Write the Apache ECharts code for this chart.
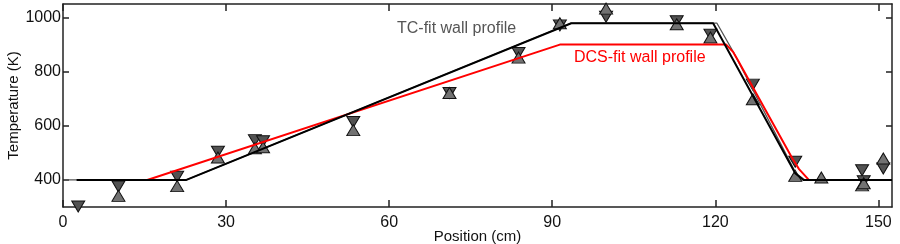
<!DOCTYPE html>
<html>
<head>
<meta charset="utf-8">
<script src="https://cdn.jsdelivr.net/npm/echarts@6/dist/echarts.min.js"></script>
<style>
html,body{margin:0;padding:0;background:#fff;}
#chart{width:900px;height:244px;}
</style>
</head>
<body>
<div id="chart"></div>
<script>
// Measured points (triangle down)
const posDown  = [2.8, 10.2, 21.0, 28.5, 35.3, 36.8, 53.4, 71.1, 83.8, 91.4, 99.9, 112.9, 119.1, 126.9, 134.7, 147.0, 147.3, 150.9];
const tempDown = [302, 376, 412, 504, 547, 543, 614, 721, 869, 971, 1003, 986, 937, 752, 467, 436, 395, 442];
// Measured points (triangle up)
const posUp  = [10.2, 21.0, 28.5, 35.3, 36.8, 53.4, 71.1, 83.8, 91.4, 99.9, 112.9, 119.1, 126.9, 134.7, 139.5, 147.0, 147.3, 150.9];
const tempUp = [341, 377, 483, 517, 521, 584, 721, 852, 979, 1033, 975, 926, 698, 415, 409, 380, 388, 479];
// TC-fit wall profile (black)
const tcPos  = [2.5, 22.7, 93.5, 119.6, 134.7, 136.2, 152.5];
const tcTemp = [400, 400, 979, 979, 425, 400, 400];
// secondary grey profile
const grPos  = [0.3, 22.7, 93.5, 120.3, 123.4, 134.8, 136.5, 152.5];
const grTemp = [400, 400, 979, 979, 870, 425, 400, 400];
// DCS-fit wall profile (red)
const dcsPos  = [15.5, 91.4, 122.0, 123.3, 124.1, 134.2, 135.4, 137.2];
const dcsTemp = [400, 900, 900, 872, 844, 478, 440, 400];
// Axis ticks
const xTicks = [0, 30, 60, 90, 120, 150];
const yTicks = [400, 600, 800, 1000];
const labelTC = 'TC-fit wall profile';
const labelDCS = 'DCS-fit wall profile';

const zip = (a, b) => a.map((v, i) => [v, b[i]]);
const FONT = 'Liberation Sans, Arial, Helvetica, sans-serif';
const axisLineStyle = { color: '#222', width: 1.5 };
const plain = v => String(v);

const chart = echarts.init(document.getElementById('chart'), null, { renderer: 'canvas' });
chart.setOption({
  animation: false,
  backgroundColor: '#fff',
  grid: { left: 63, right: 8, top: 4, bottom: 37, containLabel: false, outerBoundsMode: 'none' },
  xAxis: [{
    type: 'value', min: 0, max: 152.5, interval: 30, position: 'bottom',
    axisLine: { show: true, onZero: false, lineStyle: axisLineStyle },
    axisTick: { show: true, inside: true, length: 7, lineStyle: axisLineStyle, customValues: xTicks },
    axisLabel: { color: '#111', fontSize: 16, fontFamily: FONT, margin: 8, customValues: xTicks, formatter: plain },
    splitLine: { show: false },
    name: 'Position (cm)', nameLocation: 'middle', nameGap: 22, nameMoveOverlap: false,
    nameTextStyle: { color: '#111', fontSize: 15, fontFamily: FONT }
  }, {
    type: 'value', min: 0, max: 152.5, interval: 30, position: 'top',
    axisLine: { show: true, onZero: false, lineStyle: axisLineStyle },
    axisTick: { show: true, inside: true, length: 7, lineStyle: axisLineStyle, customValues: xTicks },
    axisLabel: { show: false },
    splitLine: { show: false }
  }],
  yAxis: [{
    type: 'value', min: 300, max: 1050, position: 'left',
    axisLine: { show: true, onZero: false, lineStyle: axisLineStyle },
    axisTick: { show: true, inside: true, length: 6, lineStyle: axisLineStyle, customValues: yTicks },
    axisLabel: { color: '#111', fontSize: 16, fontFamily: FONT, margin: 2, customValues: yTicks, formatter: plain },
    splitLine: { show: false },
    name: 'Temperature (K)', nameLocation: 'middle', nameGap: 42, nameMoveOverlap: false,
    nameTextStyle: { color: '#111', fontSize: 15, fontFamily: FONT }
  }, {
    type: 'value', min: 300, max: 1050, position: 'right',
    axisLine: { show: true, onZero: false, lineStyle: axisLineStyle },
    axisTick: { show: true, inside: true, length: 6, lineStyle: axisLineStyle, customValues: yTicks },
    axisLabel: { show: false },
    splitLine: { show: false }
  }],
  series: [
    {
      type: 'scatter', name: 'down', symbol: 'triangle', symbolRotate: 180, symbolSize: [13, 11],
      data: zip(posDown, tempDown), z: 2, clip: false,
      itemStyle: { color: '#525252', borderColor: '#111', borderWidth: 1, opacity: 1 }
    },
    {
      type: 'scatter', name: 'up', symbol: 'triangle', symbolSize: [13, 11],
      data: zip(posUp, tempUp), z: 3, clip: false,
      itemStyle: { color: '#727272', borderColor: '#111', borderWidth: 1, opacity: 1 }
    },
    {
      type: 'line', name: 'grey', data: zip(grPos, grTemp), showSymbol: false, symbol: 'none', z: 4,
      lineStyle: { color: '#555', width: 1.3 }
    },
    {
      type: 'line', name: labelDCS, data: zip(dcsPos, dcsTemp), showSymbol: false, symbol: 'none', z: 5,
      lineStyle: { color: '#ff0000', width: 2 }
    },
    {
      type: 'line', name: labelTC, data: zip(tcPos, tcTemp), showSymbol: false, symbol: 'none', z: 6,
      lineStyle: { color: '#000', width: 2 }
    }
  ],
  graphic: [
    { type: 'text', x: 397, y: 29, z: 10,
      style: { text: labelTC, fill: '#555', font: '16px ' + FONT, textVerticalAlign: 'middle' } },
    { type: 'text', x: 574, y: 58, z: 10,
      style: { text: labelDCS, fill: '#ff0000', font: '16px ' + FONT, textVerticalAlign: 'middle' } }
  ]
});
</script>
</body>
</html>
